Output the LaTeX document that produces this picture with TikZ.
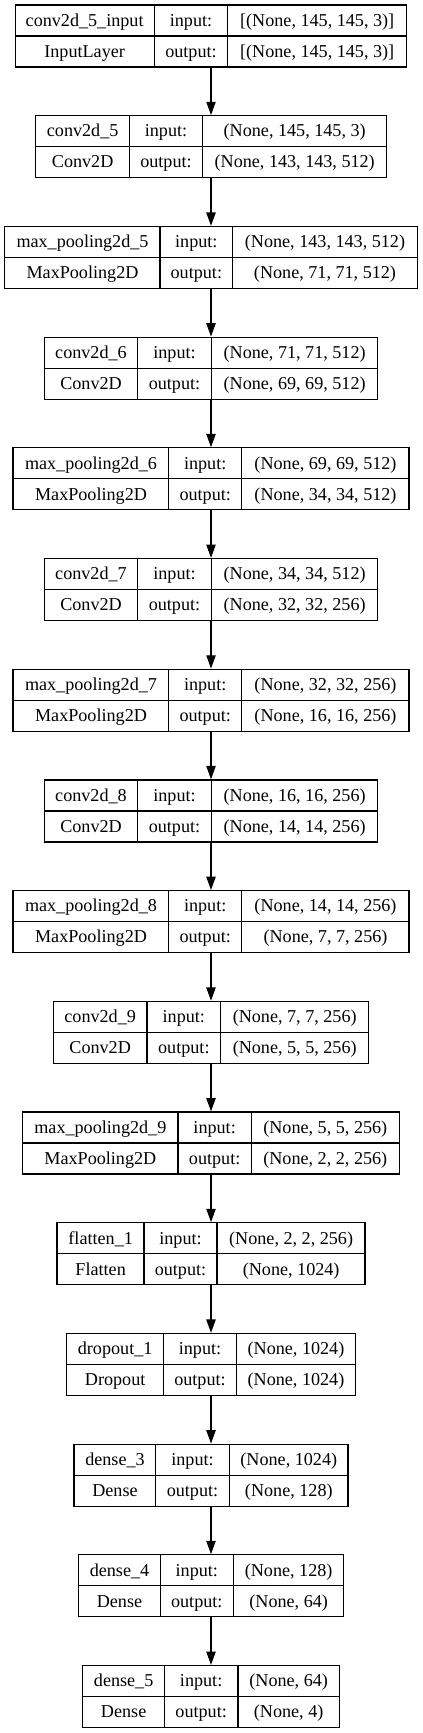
\documentclass[tikz,border=0pt]{standalone}
\usepackage{fontspec}
\setmainfont{Liberation Serif}
\usetikzlibrary{arrows.meta}

\begin{document}
\begin{tikzpicture}[x=0.75pt, y=0.75pt,
    layerbox/.style={draw, line width=0.9pt, minimum height=46.5pt, inner sep=0pt},
    cellline/.style={line width=0.9pt},
    cell/.style={font=\fontsize{13.6}{16}\selectfont, anchor=base, inner sep=0pt},
    link/.style={-{Triangle[length=10pt, width=7pt]}, line width=0.9pt}]
  \useasboundingbox (0,0) rectangle (423,-1733);
  % ---- one record per layer: cell edges, name, class, input, output ----
  \foreach \xl/\xa/\xb/\xr/\nm/\cls/\vin/\vout [count=\k from 0] in {
      15/154.3/227.7/406.7/{conv2d\_5\_input}/InputLayer/{[(None, 145, 145, 3)]}/{[(None, 145, 145, 3)]},
      36/129.3/202.7/386.7/{conv2d\_5}/Conv2D/{(None, 145, 145, 3)}/{(None, 143, 143, 512)},
      5/160/232.7/417.3/{max\_pooling2d\_5}/MaxPooling2D/{(None, 143, 143, 512)}/{(None, 71, 71, 512)},
      44.3/137.7/211.3/378/{conv2d\_6}/Conv2D/{(None, 71, 71, 512)}/{(None, 69, 69, 512)},
      13.3/168.7/241.7/409.3/{max\_pooling2d\_6}/MaxPooling2D/{(None, 69, 69, 512)}/{(None, 34, 34, 512)},
      44.3/137.7/211.3/378/{conv2d\_7}/Conv2D/{(None, 34, 34, 512)}/{(None, 32, 32, 256)},
      13.3/168.7/241.7/409.3/{max\_pooling2d\_7}/MaxPooling2D/{(None, 32, 32, 256)}/{(None, 16, 16, 256)},
      44.3/137.7/211.3/378/{conv2d\_8}/Conv2D/{(None, 16, 16, 256)}/{(None, 14, 14, 256)},
      13.3/168.7/241.7/409.3/{max\_pooling2d\_8}/MaxPooling2D/{(None, 14, 14, 256)}/{(None, 7, 7, 256)},
      53.3/147/220.7/368.7/{conv2d\_9}/Conv2D/{(None, 7, 7, 256)}/{(None, 5, 5, 256)},
      22.7/178/251.3/399.3/{max\_pooling2d\_9}/MaxPooling2D/{(None, 5, 5, 256)}/{(None, 2, 2, 256)},
      57.3/144/217/365.3/{flatten\_1}/Flatten/{(None, 2, 2, 256)}/{(None, 1024)},
      67/163.3/236.7/355.3/{dropout\_1}/Dropout/{(None, 1024)}/{(None, 1024)},
      74.3/155.7/229.3/348.3/{dense\_3}/Dense/{(None, 1024)}/{(None, 128)},
      78.7/160.3/233.3/344/{dense\_4}/Dense/{(None, 128)}/{(None, 64)},
      83/164.3/238/339.3/{dense\_5}/Dense/{(None, 64)}/{(None, 4)}} {
    \pgfmathsetmacro\ytop{-(5+110.7*\k)}
    \pgfmathsetmacro\boxw{(\xr-\xl)*0.75}
    \node[layerbox, minimum width=\boxw pt] (L\k) at (211,{\ytop-31}) {};
    \draw[cellline] (L\k.west) -- (L\k.east);
    \draw[cellline] ({\xa},{\ytop}) -- ({\xa},{\ytop-62});
    \draw[cellline] ({\xb},{\ytop}) -- ({\xb},{\ytop-62});
    \node[cell] (n\k) at ({(\xl+\xa)/2},{\ytop-21.3}) {\nm};
    \node[cell] (c\k) at ({(\xl+\xa)/2},{\ytop-52.3}) {\cls};
    \node[cell] (i\k) at ({(\xa+\xb)/2},{\ytop-21.3}) {input:};
    \node[cell] (o\k) at ({(\xa+\xb)/2},{\ytop-52.3}) {output:};
    \node[cell] (vi\k) at ({(\xb+\xr)/2},{\ytop-21.3}) {\vin};
    \node[cell] (vo\k) at ({(\xb+\xr)/2},{\ytop-52.3}) {\vout};
    % ---- arrow from the layer above ----
    \ifnum\k>0
      \pgfmathtruncatemacro\prev{\k-1}
      \draw[link] (L\prev) -- (L\k);
    \fi
  }
\end{tikzpicture}
\end{document}
